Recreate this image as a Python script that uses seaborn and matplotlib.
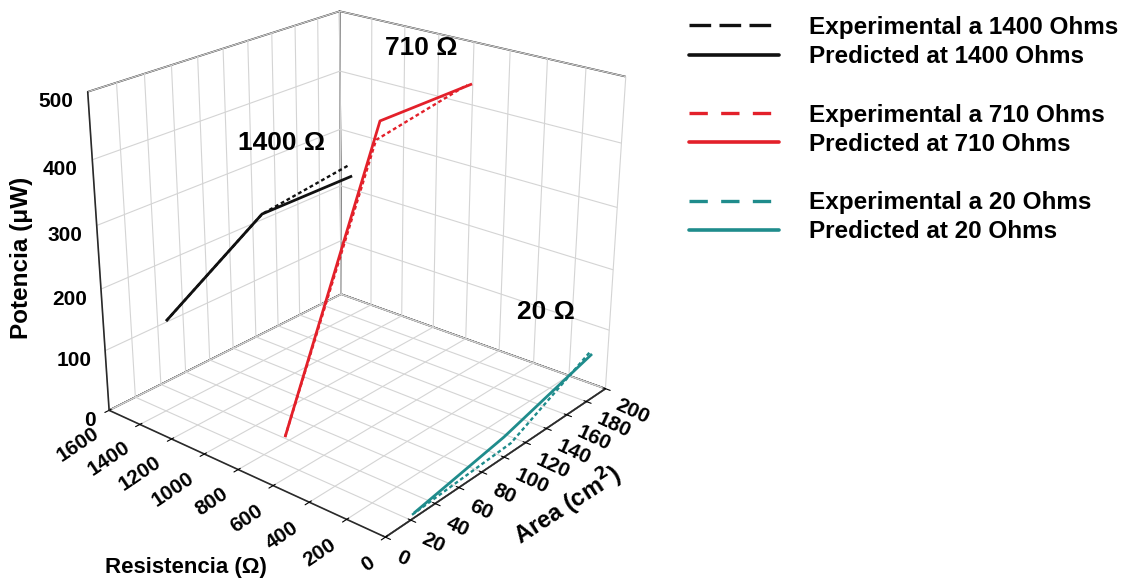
import numpy as np
import matplotlib
matplotlib.use('Agg')
import matplotlib.pyplot as plt
from matplotlib.lines import Line2D
import seaborn as sns

# ---------------- data ----------------
resist_levels = [1400, 710, 20]                       # Ω
area_pred_1400 = [23.5, 101.9, 181.7]
pot_pred_1400 = [145.9, 249.3, 248.5]
area_exp_1400 = [23.5, 101.9, 178.9]
pot_exp_1400 = [145.9, 249.3, 269.6]

area_pred_710 = [24.6, 102.7, 183.8]
pot_pred_710 = [34.4, 450.4, 450.7]
area_exp_710 = [24.6, 99.5, 179.1]
pot_exp_710 = [34.4, 424.5, 452.3]

area_pred_20 = [25.8, 102.9, 187.1]
pot_pred_20 = [0.7, 26.9, 71.0]
area_exp_20 = [24.2, 109.7, 184.8]
pot_exp_20 = [0.0, 9.0, 76.8]

area_ticks = list(range(0, 201, 20))
resist_ticks = list(range(0, 1601, 200))
pot_ticks = list(range(0, 501, 100))

legend_labels = ["Experimental a 1400 Ohms", "Predicted at 1400 Ohms",
                 "Experimental a 710 Ohms", "Predicted at 710 Ohms",
                 "Experimental a 20 Ohms", "Predicted at 20 Ohms"]
series_labels = ["1400 Ω", "710 Ω", "20 Ω"]

# ---------------- style ----------------
sns.set_style("white")
plt.rcParams['font.family'] = ['Liberation Sans', 'DejaVu Sans']
plt.rcParams['font.weight'] = 'bold'
plt.rcParams['text.color'] = 'black'
plt.rcParams['axes.labelcolor'] = 'black'
plt.rcParams['xtick.color'] = 'black'
plt.rcParams['ytick.color'] = 'black'
plt.rcParams['grid.color'] = '#d4d4d4'
plt.rcParams['grid.linewidth'] = 0.8
palette = sns.color_palette(['#111111', '#e3202a', '#1f8c8c'])

fig = plt.figure(figsize=(11.29, 5.82), dpi=100)
ax = fig.add_axes([0.0446, 0.0412, 0.5346, 1.037], projection='3d')
ax.set_xlim(0, 200)
ax.set_ylim(0, 1600)
ax.set_zlim(0, 500)
ax.view_init(elev=23.509, azim=-140.095)
ax.set_proj_type('persp', focal_length=0.52)
ax.set_box_aspect((1, 0.997, 0.935))

for axis in (ax.xaxis, ax.yaxis, ax.zaxis):
    axis.set_pane_color((1, 1, 1, 1))
    axis.pane.set_edgecolor('#2a2a2a')
    axis.pane.set_linewidth(1.2)
    axis.line.set_color('#2a2a2a')
    axis.line.set_linewidth(1.2)
ax.grid(True)
ax.zaxis._axinfo['tick']['inward_factor'] = 0.0
ax.zaxis._axinfo['tick']['outward_factor'] = 0.0

# ---------------- lines ----------------
pred = [(area_pred_1400, pot_pred_1400), (area_pred_710, pot_pred_710), (area_pred_20, pot_pred_20)]
exp = [(area_exp_1400, pot_exp_1400), (area_exp_710, pot_exp_710), (area_exp_20, pot_exp_20)]
for R, (a, p), (ae, pe), col in zip(resist_levels, pred, exp, palette):
    ax.plot(ae, [R] * len(ae), pe, color=col, lw=1.7, ls=(0, (1.6, 1.2)))
    ax.plot(a, [R] * len(a), p, color=col, lw=2.0, solid_capstyle='butt')

# ---------------- ticks ----------------
ax.set_xticks(area_ticks)
ax.set_yticks(resist_ticks)
ax.set_zticks(pot_ticks)
ax.set_xticklabels([str(t) for t in area_ticks])
ax.set_yticklabels([str(t) for t in resist_ticks])
ax.set_zticklabels([str(t) for t in pot_ticks])
ax.tick_params(axis='x', labelsize=15, pad=1, colors='black')
ax.tick_params(axis='y', labelsize=15, pad=3, colors='black')
ax.tick_params(axis='z', labelsize=15, pad=-2, colors='black')
for lbl in ax.get_yticklabels():
    lbl.set_rotation(34)
    lbl.set_rotation_mode('anchor')
    lbl.set_ha('right')
    lbl.set_va('center')
    lbl.set_fontweight('bold')
for lbl in ax.get_xticklabels():
    lbl.set_rotation(-25)
    lbl.set_rotation_mode('anchor')
    lbl.set_ha('left')
    lbl.set_va('center')
    lbl.set_fontweight('bold')
for lbl in ax.get_zticklabels():
    lbl.set_ha('right')
    lbl.set_fontweight('bold')

# ---------------- labels ----------------
W, H = 1129.0, 582.0
fig.text(22 / W, 1 - 258 / H, "Potencia (μW)", rotation=90, ha='center', va='center',
         fontsize=17.5, fontweight='bold')
fig.text(186 / W, 1 - 567 / H, "Resistencia (Ω)", ha='center', va='center',
         fontsize=16, fontweight='bold')
fig.text(568 / W, 1 - 505 / H, "Area (cm$^{\\mathbf{2}}$)", rotation=33, ha='center', va='center',
         fontsize=17, fontweight='bold')
for txt, (x, y) in zip(series_labels, [(282, 143), (421, 48), (546, 312)]):
    fig.text(x / W, 1 - y / H, txt, ha='center', va='center', fontsize=19, fontweight='bold')

# ---------------- legend ----------------
dash_styles = [(0, (6.5, 2.5)), (0, (5.5, 4)), (0, (5.5, 4))]
handles, labels = [], []
for i, col in enumerate(palette):
    handles.append(Line2D([], [], color=col, lw=2.4, ls=dash_styles[i]))
    labels.append(legend_labels[2 * i])
    handles.append(Line2D([], [], color=col, lw=2.6))
    labels.append(legend_labels[2 * i + 1])
    if i < 2:
        handles.append(Line2D([], [], color='none'))
        labels.append(' ')
fig.legend(handles, labels, loc='upper left', bbox_to_anchor=(689 / W, 1 - 16 / H),
           frameon=False, prop={'family': 'Liberation Sans', 'weight': 'bold', 'size': 17.5},
           handlelength=3.7, handletextpad=1.23, labelspacing=0.255, borderpad=0, borderaxespad=0)

fig.savefig('out.png', dpi=100)
